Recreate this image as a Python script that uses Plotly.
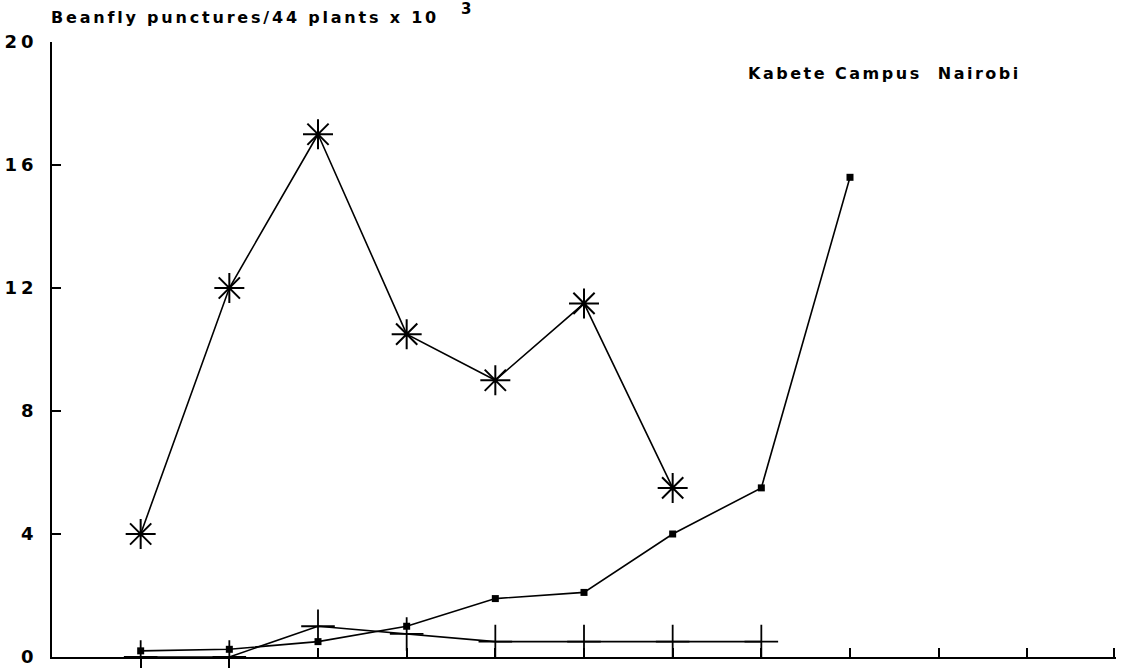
import plotly.graph_objects as go

# ---- data ----
star_x = [1, 2, 3, 4, 5, 6, 7]
star_y = [4.0, 12.0, 17.0, 10.5, 9.0, 11.5, 5.5]

square_x = [1, 2, 3, 4, 5, 6, 7, 8, 9]
square_y = [0.2, 0.25, 0.5, 1.0, 1.9, 2.1, 4.0, 5.5, 15.6]

cross_x = [1, 2, 3, 4, 5, 6, 7, 8]
cross_y = [0.0, 0.0, 1.0, 0.75, 0.5, 0.5, 0.5, 0.5]

y_ticks = [0, 4, 8, 12, 16, 20]
x_ticks_down = [1, 2]
x_ticks_up = [3, 4, 5, 6, 7, 8, 9, 10, 11, 11.98]

title_text = "Beanfly punctures/44 plants x 10"
title_sup = "3"
site_text = "Kabete Campus  Nairobi"

FONT = "DejaVu Sans"
BLACK = "#000000"


def spaced(s, px):
    return '<span style="letter-spacing:%spx">%s</span>' % (px, s)


fig = go.Figure()

fig.add_trace(go.Scatter(
    x=cross_x, y=cross_y, mode="lines+markers",
    line=dict(color=BLACK, width=1.6),
    marker=dict(symbol="cross-thin-open", size=24, line=dict(color=BLACK, width=1.8)),
    showlegend=False, hoverinfo="skip"))

fig.add_trace(go.Scatter(
    x=square_x, y=square_y, mode="lines+markers",
    line=dict(color=BLACK, width=1.6),
    marker=dict(symbol="square", size=7, color=BLACK),
    showlegend=False, hoverinfo="skip"))

fig.add_trace(go.Scatter(
    x=star_x, y=star_y, mode="lines+markers",
    line=dict(color=BLACK, width=1.6),
    marker=dict(symbol="asterisk-open", size=25, line=dict(color=BLACK, width=2)),
    showlegend=False, hoverinfo="skip"))

# invisible trace so the overlay axis (upward ticks) is drawn
fig.add_trace(go.Scatter(x=[12], y=[0], xaxis="x2", mode="markers",
                         marker=dict(opacity=0), showlegend=False, hoverinfo="skip"))

fig.update_layout(
    width=1131, height=669,
    margin=dict(l=52, r=15, t=42, b=12),
    paper_bgcolor="white", plot_bgcolor="white",
    font=dict(family=FONT, color=BLACK),
    xaxis=dict(range=[0, 12], showgrid=False, zeroline=False, automargin=False,
               showline=True, linecolor=BLACK, linewidth=1.7,
               tickmode="array", tickvals=x_ticks_down, showticklabels=False,
               ticks="outside", ticklen=9, tickwidth=1.7, tickcolor=BLACK),
    xaxis2=dict(range=[0, 12], overlaying="x", anchor="y", side="bottom", automargin=False,
                showgrid=False, zeroline=False, showline=False,
                tickmode="array", tickvals=x_ticks_up, showticklabels=False,
                ticks="inside", ticklen=9, tickwidth=1.7, tickcolor=BLACK),
    yaxis=dict(range=[0, 20], showgrid=False, zeroline=False, automargin=False,
               showline=True, linecolor=BLACK, linewidth=1.7,
               tickmode="array", tickvals=y_ticks,
               ticktext=[spaced(str(v), 4) for v in y_ticks],
               ticks="inside", ticklen=9, tickwidth=1.7, tickcolor=BLACK,
               ticklabelstandoff=9,
               tickfont=dict(family=FONT, size=18, color=BLACK, weight="bold")),
)

fig.add_annotation(text=spaced(title_text, 2.8), xref="paper", yref="paper",
                   x=-0.003, y=(657 - 18) / 615, xanchor="left", yanchor="middle",
                   showarrow=False,
                   font=dict(family=FONT, size=16, color=BLACK, weight="bold"))
fig.add_annotation(text=title_sup, xref="paper", yref="paper",
                   x=(466 - 52) / 1064, y=(657 - 9) / 615, xanchor="center", yanchor="middle",
                   showarrow=False,
                   font=dict(family=FONT, size=15, color=BLACK, weight="bold"))
fig.add_annotation(text=spaced(site_text, 2.5), xref="paper", yref="paper",
                   x=(884 - 52) / 1064, y=(657 - 74) / 615, xanchor="center", yanchor="middle",
                   showarrow=False,
                   font=dict(family=FONT, size=16, color=BLACK, weight="bold"))

fig.write_html("out.html", config={"displayModeBar": False},
               post_script="document.body.style.margin='0';document.body.style.overflow='hidden';")
